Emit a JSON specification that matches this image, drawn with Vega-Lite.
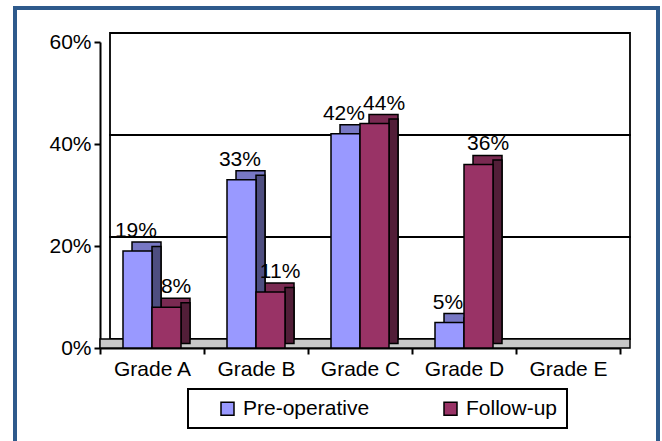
{
  "$schema": "https://vega.github.io/schema/vega-lite/v6.json",
  "width": 643,
  "height": 440,
  "autosize": {"type": "none"},
  "padding": {"left": 15, "top": 8, "right": 4, "bottom": 0},
  "background": "white",
  "config": {
    "view": {"stroke": "#2E5A8C", "strokeWidth": 4},
    "font": "Liberation Sans",
    "axis": {"labelColor": "black", "labelFont": "Liberation Sans"},
    "legend": {"strokeWidth": 2}
  },
  "datasets": {
    "bars": [
      {"grade": "Grade A", "series": "Pre-operative", "v": 0.19},
      {"grade": "Grade A", "series": "Follow-up", "v": 0.08},
      {"grade": "Grade B", "series": "Pre-operative", "v": 0.33},
      {"grade": "Grade B", "series": "Follow-up", "v": 0.11},
      {"grade": "Grade C", "series": "Pre-operative", "v": 0.42},
      {"grade": "Grade C", "series": "Follow-up", "v": 0.44},
      {"grade": "Grade D", "series": "Pre-operative", "v": 0.05},
      {"grade": "Grade D", "series": "Follow-up", "v": 0.36}
    ],
    "wall": [
      {"a": 0, "b": 1, "y0": 0, "y1": 0.2},
      {"a": 0, "b": 1, "y0": 0.2, "y1": 0.4},
      {"a": 0, "b": 1, "y0": 0.4, "y1": 0.6}
    ],
    "floor": [{"a": 0, "b": 1, "y0": 0}]
  },
  "layer": [
    {
      "layer": [
        {
          "data": {"name": "wall"},
          "mark": {"type": "rect", "fill": "transparent", "stroke": "black", "strokeWidth": 1.8},
          "encoding": {
            "x": {"field": "a", "type": "quantitative", "scale": {"domain": [0, 1], "range": [95, 615]}, "axis": null},
            "x2": {"field": "b"},
            "y": {"field": "y0", "type": "quantitative", "scale": {"domain": [0, 0.6], "range": [331, 25]}, "axis": null},
            "y2": {"field": "y1"}
          }
        },
        {
          "data": {"name": "floor"},
          "mark": {"type": "rect", "fill": "#C8C8C8", "stroke": "black", "strokeWidth": 1.5, "xOffset": -10, "yOffset": 9},
          "encoding": {
            "x": {"field": "a", "type": "quantitative"},
            "x2": {"field": "b"},
            "y": {"field": "y0", "type": "quantitative"},
            "y2": {"field": "y0"}
          }
        }
      ]
    },
    {
      "data": {"name": "bars"},
      "encoding": {
        "x": {
          "field": "grade", "type": "nominal",
          "scale": {"domain": ["Grade A", "Grade B", "Grade C", "Grade D", "Grade E"], "range": [85, 605], "paddingInner": 0, "paddingOuter": 0},
          "axis": {"orient": "bottom", "offset": -100, "tickBand": "extent", "domainColor": "black", "domainWidth": 2, "tickColor": "black", "tickWidth": 2, "tickSize": 6, "labelFontSize": 21, "labelAngle": 0, "labelPadding": 4, "title": null}
        },
        "y": {
          "field": "v", "type": "quantitative",
          "scale": {"domain": [0, 0.6], "range": [340, 34]},
          "axis": {"orient": "left", "offset": -85, "values": [0, 0.2, 0.4, 0.6], "format": ".0%", "grid": false, "domainColor": "black", "domainWidth": 2, "tickColor": "black", "tickWidth": 2, "tickSize": 6, "labelFontSize": 21, "labelPadding": 3, "title": null}
        }
      },
      "layer": [
        {
          "mark": {"type": "bar", "yOffset": -9, "y2Offset": -9, "stroke": "black", "strokeWidth": 1.5},
          "encoding": {
            "xOffset": {"field": "series", "type": "nominal", "scale": {"domain": ["Pre-operative", "Follow-up"], "paddingInner": 0, "paddingOuter": 0.793, "align": 0.696}},
            "fill": {"condition": {"test": "datum.series === 'Pre-operative'", "value": "#7878C4"}, "value": "#7A2A52"}
          }
        },
        {
          "mark": {"type": "bar", "width": 9, "yOffset": -4.5, "y2Offset": -4.5, "stroke": "black", "strokeWidth": 1.5},
          "encoding": {
            "xOffset": {"field": "series", "type": "nominal", "scale": {"domain": ["Pre-operative", "Follow-up"], "paddingInner": 0, "paddingOuter": 0.793, "align": 0.913}},
            "fill": {"condition": {"test": "datum.series === 'Pre-operative'", "value": "#4E4E80"}, "value": "#521E38"}
          }
        },
        {
          "mark": {"type": "bar", "stroke": "black", "strokeWidth": 1.5},
          "encoding": {
            "xOffset": {"field": "series", "type": "nominal", "scale": {"domain": ["Pre-operative", "Follow-up"], "paddingInner": 0, "paddingOuter": 0.793, "align": 0.5}},
            "color": {
              "field": "series", "type": "nominal",
              "scale": {"domain": ["Pre-operative", "Follow-up"], "range": ["#9999FF", "#993366"]},
              "legend": {"orient": "none", "legendX": 173, "legendY": 381, "direction": "horizontal", "title": null, "strokeColor": "black", "padding": 9, "symbolOffset": 20, "symbolType": "square", "symbolSize": 169, "symbolStrokeColor": "black", "symbolStrokeWidth": 1.5, "labelFontSize": 21, "labelColor": "black", "labelOffset": 5, "columnPadding": 50, "labelFont": "Liberation Sans"}
            }
          }
        },
        {
          "mark": {"type": "text", "fontSize": 21, "color": "black", "baseline": "alphabetic", "dy": -14, "dx": 4},
          "encoding": {
            "xOffset": {"field": "series", "type": "nominal", "scale": {"domain": ["Pre-operative", "Follow-up"], "paddingInner": 0, "paddingOuter": 0.793, "align": 0.5}},
            "text": {"field": "v", "type": "quantitative", "format": ".0%"}
          }
        }
      ],
      "resolve": {"scale": {"xOffset": "independent"}}
    }
  ],
  "resolve": {"scale": {"x": "independent", "y": "independent"}, "axis": {"x": "independent", "y": "independent"}}
}
